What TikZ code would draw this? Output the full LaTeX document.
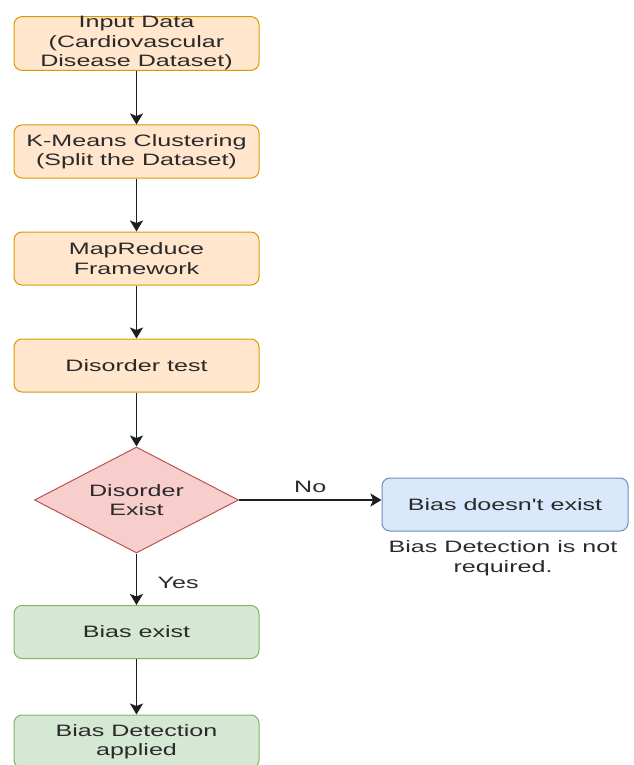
\documentclass[tikz,border=0pt]{standalone}
\usepackage{fontspec}
\setmainfont{Liberation Sans}
\newfontfamily\widefont[FakeStretch=1.52]{Liberation Sans}
\usetikzlibrary{shapes.geometric,arrows.meta}
\definecolor{ofill}{HTML}{FFE6CC}\definecolor{odraw}{HTML}{D79B00}
\definecolor{rfill}{HTML}{F8CECC}\definecolor{rdraw}{HTML}{B85450}
\definecolor{bfill}{HTML}{DAE8FC}\definecolor{bdraw}{HTML}{6C8EBF}
\definecolor{gfill}{HTML}{D5E8D4}\definecolor{gdraw}{HTML}{82B366}
\definecolor{txt}{HTML}{2A2A2A}
\definecolor{linec}{HTML}{1E1E1E}
\begin{document}
\begin{tikzpicture}[x=1pt,y=-1pt,
  every node/.style={font=\widefont\fontsize{16.5}{19.5}\selectfont, text=txt, align=center},
  stepbox/.style={rectangle, rounded corners=8pt, draw, line width=1pt, minimum width=245pt, minimum height=53pt, inner sep=0pt},
  obox/.style={stepbox, fill=ofill, draw=odraw},
  gbox/.style={stepbox, fill=gfill, draw=gdraw},
  bbox/.style={stepbox, fill=bfill, draw=bdraw, minimum width=246pt},
  decision/.style={diamond, aspect=1.92, fill=rfill, draw=rdraw, line width=1pt, minimum width=204pt, minimum height=106pt, inner sep=0pt},
  conn/.style={draw=linec, line width=1.6pt, -{Stealth[length=11pt,width=13pt,inset=2.5pt]}},
  lbl/.style={font=\widefont\fontsize{16.5}{19.5}\selectfont}]
\useasboundingbox (0,0) rectangle (633,765);
\begin{scope}
\clip (0,0) rectangle (633,765);
\node[obox] (n1) at (136.5,43.5) {Input Data\\(Cardiovascular\\Disease Dataset)};
\node[obox] (n2) at (136.5,151.5) {K-Means Clustering\\(Split the Dataset)};
\node[obox] (n3) at (136.5,258.5) {MapReduce\\Framework};
\node[obox] (n4) at (136.5,365.5) {Disorder test};
\node[decision] (d) at (136.5,500) {Disorder\\Exist};
\node[bbox] (b) at (505,504.5) {Bias doesn't exist};
\node[lbl] (bn) at (503,558) {Bias Detection is not\\required.};
\node[gbox] (g1) at (136.5,632) {Bias exist};
\node[gbox] (g2) at (136.5,741.5) {Bias Detection\\applied};
\draw[conn] (n1) -- (n2);
\draw[conn] (n2) -- (n3);
\draw[conn] (n3) -- (n4);
\draw[conn] (n4) -- (d);
\draw[conn] (d.east) -- (b.west |- d.east) node[midway, above=3pt, lbl] {No};
\draw[conn] (d) -- node[pos=0.58, right=17pt, lbl] {Yes} (g1);
\draw[conn] (g1) -- (g2);
\end{scope}
\end{tikzpicture}
\end{document}
